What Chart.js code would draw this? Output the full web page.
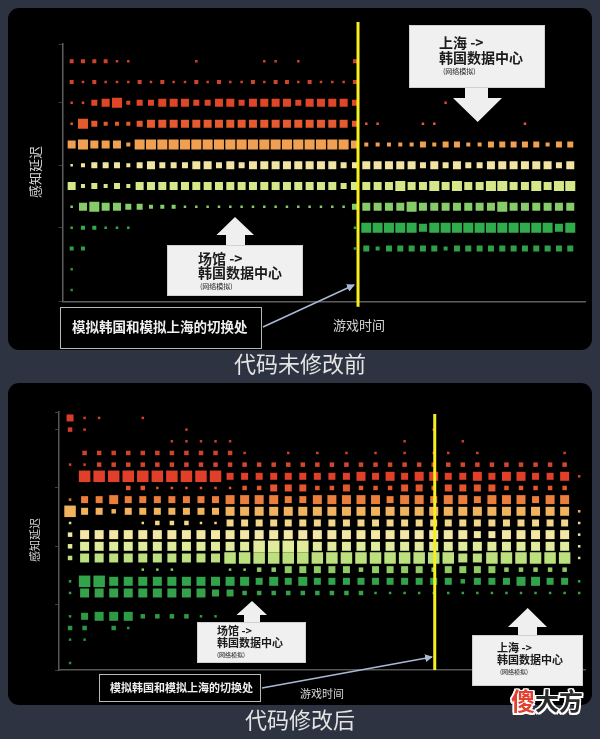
<!DOCTYPE html>
<html><head><meta charset="utf-8">
<script src="https://cdn.jsdelivr.net/npm/chart.js@4.4.1/dist/chart.umd.min.js"></script>
<style>
html,body{margin:0;padding:0;background:#2d3340;width:600px;height:739px;overflow:hidden;font-family:"Noto Sans CJK SC","Noto Sans",sans-serif;}
.panel{position:absolute;background:#000;border-radius:11px;}
canvas{position:absolute;left:0;}
.box{position:absolute;background:#f0f0f0;box-sizing:border-box;border:1px solid #d0d0d0;}
.sbox{position:absolute;background:#000;box-sizing:border-box;border:1.5px solid #b8b8b8;}
.t{position:absolute;white-space:nowrap;line-height:1;}
.dk{color:#1b1b1b;font-weight:bold;}
.wt{color:#efefef;font-weight:bold;}
.ax{color:#d6d6d6;}
.rot{transform:translate(-50%,-50%) rotate(-90deg);}
.ttl{color:#e4e4e4;font-size:22px;transform:translate(-50%,-50%);}
svg{position:absolute;left:0;top:0;}
</style></head><body>
<div class="panel" style="left:8px;top:8px;width:584px;height:342px"></div>
<div class="panel" style="left:8px;top:383px;width:584px;height:322px"></div>
<canvas id="topChart" width="600" height="370" style="top:0;width:600px;height:370px"></canvas>
<canvas id="bottomChart" width="600" height="369" style="top:370px;width:600px;height:369px"></canvas>

<svg width="600" height="739" style="z-index:2">
  <polygon fill="#efefef" points="465,87 488,87 488,98 502,98 477.7,122 453,98 465,98"/>
  <polygon fill="#efefef" points="226,246 245,246 245,235 254,235 235,217 216.5,235 226,235"/>
  <polygon fill="#efefef" points="244,623 260,623 260,615 267,615 252,601 236.5,615 244,615"/>
  <polygon fill="#efefef" points="518,636 537,636 537,627 547,627 527.7,608 508,627 518,627"/>
</svg>

<div class="box" style="left:409px;top:25px;width:136px;height:63px;z-index:3"></div>
<div class="t dk" style="left:439px;top:35px;font-size:14px;z-index:4">上海 -&gt;</div>
<div class="t dk" style="left:439px;top:50px;font-size:14px;z-index:4">韩国数据中心</div>
<div class="t dk" style="left:443px;top:68px;font-size:7px;font-weight:normal;z-index:4">(网络模拟)</div>

<div class="box" style="left:167px;top:245px;width:136px;height:51px;z-index:3"></div>
<div class="t dk" style="left:198px;top:251px;font-size:14px;z-index:4">场馆 -&gt;</div>
<div class="t dk" style="left:198px;top:265px;font-size:14px;z-index:4">韩国数据中心</div>
<div class="t dk" style="left:200px;top:283px;font-size:7px;font-weight:normal;z-index:4">(网络模拟)</div>

<div class="sbox" style="left:60px;top:307px;width:202px;height:42px;z-index:3"></div>
<div class="t wt" style="left:72px;top:320px;font-size:13.5px;z-index:4">模拟韩国和模拟上海的切换处</div>

<div class="t ax rot" style="left:34px;top:172px;font-size:13px;z-index:4">感知延迟</div>
<div class="t ax" style="left:359px;top:324px;font-size:13px;transform:translate(-50%,-50%);z-index:4">游戏时间</div>
<div class="t ttl" style="left:300px;top:362px">代码未修改前</div>

<div class="box" style="left:197px;top:622px;width:109px;height:41px;z-index:3"></div>
<div class="t dk" style="left:217px;top:625px;font-size:11px;z-index:4">场馆 -&gt;</div>
<div class="t dk" style="left:217px;top:637px;font-size:11px;z-index:4">韩国数据中心</div>
<div class="t dk" style="left:217px;top:652px;font-size:6px;font-weight:normal;z-index:4">(网络模拟)</div>

<div class="box" style="left:472px;top:635px;width:111px;height:51px;z-index:3"></div>
<div class="t dk" style="left:497px;top:642px;font-size:11px;z-index:4">上海 -&gt;</div>
<div class="t dk" style="left:497px;top:654px;font-size:11px;z-index:4">韩国数据中心</div>
<div class="t dk" style="left:500px;top:669px;font-size:6px;font-weight:normal;z-index:4">(网络模拟)</div>

<div class="sbox" style="left:99px;top:674px;width:162px;height:28px;z-index:3"></div>
<div class="t wt" style="left:110px;top:682px;font-size:11px;z-index:4">模拟韩国和模拟上海的切换处</div>

<div class="t ax rot" style="left:34px;top:540px;font-size:11px;z-index:4">感知延迟</div>
<div class="t ax" style="left:322px;top:693px;font-size:11px;transform:translate(-50%,-50%);z-index:4">游戏时间</div>
<div class="t ttl" style="left:300px;top:718px">代码修改后</div>

<svg width="600" height="739" style="z-index:5">
  <defs><marker id="ah" markerWidth="8" markerHeight="8" refX="7" refY="4" orient="auto" markerUnits="userSpaceOnUse">
    <path d="M0,0 L8,4 L0,8 z" fill="#aab8d8"/></marker></defs>
  <line x1="263" y1="327" x2="354" y2="285" stroke="#aab8d8" stroke-width="1.5" marker-end="url(#ah)"/>
  <line x1="262" y1="688" x2="432" y2="657" stroke="#aab8d8" stroke-width="1.5" marker-end="url(#ah)"/>
</svg>

<div class="t" style="left:511px;top:688px;font-size:24px;font-weight:bold;z-index:6;text-shadow:-1.5px -1.5px 0 #fff,1.5px -1.5px 0 #fff,-1.5px 1.5px 0 #fff,1.5px 1.5px 0 #fff,0 1.5px 0 #fff,0 -1.5px 0 #fff,1.5px 0 0 #fff,-1.5px 0 0 #fff"><span style="color:#e4402f">傻</span><span style="color:#2a2a2a">大方</span></div>

<script>
// ---------- DATA: top chart (before the code change) ----------
const topTimeSlots = [0,1,2,3,4,5,6,7,8,9,10,11,12,13,14,15,16,17,18,19,20,21,22,23,24,25,26,27,28,29,30,31,32,33,34,35,36,37,38,39,40,41,42,43,44];
const topLatencyLevels = [11,10,9,8,7,6,5,4,3,2,1,0];
const topSwitchSlot = 25.27;
// sample density level per latency row (top row first), per time slot
const topDensity = [
  [2,2,2,2,1,1,0,0,0,0,0,1,0,0,0,0,0,1,1,0,1,0,0,0,0,2, 0,0,0,0,0,0,0,0,0,0,0,0,0,0,0,0,0,0,0],
  [2,1,2,1,1,1,2,1,2,1,1,2,1,2,1,1,2,1,2,2,1,2,1,1,1,2, 0,0,0,0,0,0,0,0,0,0,0,0,0,0,0,0,0,0,0],
  [1,1,3,4,5,2,3,3,4,4,4,3,3,4,4,3,4,4,4,4,3,4,4,4,4,3, 0,0,0,0,0,0,0,1,0,0,0,0,0,0,0,0,0,0,0],
  [1,5,3,2,2,2,3,4,4,4,4,4,4,4,4,4,4,4,4,4,4,4,4,4,4,3, 1,1,0,0,0,1,1,0,0,0,0,0,0,0,1,0,0,0,0],
  [4,5,4,4,4,2,5,5,5,5,5,5,5,5,5,5,5,5,5,5,5,5,5,5,5,4, 2,2,2,2,2,3,2,3,3,2,2,3,3,3,3,3,2,3,3],
  [1,2,3,3,3,2,3,4,3,3,3,4,4,3,4,3,4,4,4,4,4,4,4,4,3,3, 4,4,4,4,4,3,4,3,4,3,3,4,4,4,4,4,4,3,4],
  [4,2,3,2,3,2,4,4,4,4,4,4,4,4,4,4,4,4,4,4,4,4,4,4,3,4, 4,4,4,5,4,4,5,4,5,4,4,5,5,4,4,5,4,5,5],
  [1,4,5,4,4,3,3,2,2,2,1,1,1,1,1,1,1,1,1,1,1,1,1,1,1,3, 4,4,4,4,5,4,4,4,4,4,4,4,5,4,4,4,4,4,4],
  [1,2,2,1,1,1,0,0,0,0,0,0,0,0,0,0,0,0,0,0,0,0,0,0,0,1, 5,5,5,5,5,4,5,5,5,5,5,5,5,5,5,5,5,4,5],
  [2,2,0,0,0,0,0,0,0,0,0,0,0,0,0,0,0,0,0,0,0,0,0,0,0,1, 3,2,3,3,3,3,3,2,3,3,3,3,3,3,3,3,3,3,3],
  [1,0,0,0,0,0,0,0,0,0,0,0,0,0,0,0,0,0,0,0,0,0,0,0,0,0, 0,0,0,0,0,0,0,0,0,0,0,0,0,0,0,0,0,0,0],
  [1,0,0,0,0,0,0,0,0,0,0,0,0,0,0,0,0,0,0,0,0,0,0,0,0,0, 0,0,0,0,0,0,0,0,0,0,0,0,0,0,0,0,0,0,0]
];

// ---------- DATA: bottom chart (after the code change) ----------
const bottomTimeSlots = [0,1,2,3,4,5,6,7,8,9,10,11,12,13,14,15,16,17,18,19,20,21,22,23,24,25,26,27,28,29,30,31,32,33,34,35];
const bottomLatencyLevels = [21,20,19,18,17,16,15,14,13,12,11,10,9,8,7,6,5,4,3,2,1,0];
const bottomSwitchSlot = 25.07;
const bottomDensity = [
  [3,1,1,0,0,1,0,0,0,0, 0,0,0,0,0,0,0,0,0,0, 0,0,0,0,0,0,0,0,0,0, 0,0,0,0,0,0],
  [2,1,0,0,0,0,0,0,1,0, 0,0,0,0,0,0,0,0,0,0, 0,0,0,0,0,1,0,0,0,0, 0,0,0,0,0,0],
  [0,0,0,0,0,0,0,1,1,1, 1,1,0,0,0,0,0,0,0,0, 0,0,0,1,0,0,0,1,0,0, 0,0,0,0,0,0],
  [0,2,2,2,2,2,2,2,2,2, 2,2,1,0,0,1,0,1,0,1, 0,1,0,1,0,1,1,0,1,0, 0,0,0,0,1,0],
  [1,1,2,2,2,2,2,2,2,2, 2,2,2,2,2,2,2,2,2,2, 2,2,2,2,2,2,2,2,2,2, 2,2,2,2,2,0],
  [0,5,5,5,5,5,5,5,5,5, 5,3,3,3,3,3,3,3,3,3, 4,3,4,3,4,4,3,3,4,3, 4,4,3,3,4,1],
  [0,0,0,0,2,2,1,1,1,1, 1,1,2,2,3,3,3,2,2,3, 2,2,2,3,3,2,3,3,3,3, 2,2,2,2,2,0],
  [1,3,3,4,3,3,3,3,3,3, 3,4,4,4,4,3,3,4,4,4, 4,4,3,4,4,3,4,4,3,4, 4,4,3,4,4,0],
  [5,3,3,2,3,3,3,3,3,3, 3,4,4,4,4,4,4,4,4,4, 4,4,4,4,4,4,4,4,4,4, 4,4,4,4,4,1],
  [1,0,0,0,0,1,2,2,2,1, 1,3,3,3,3,3,3,3,3,3, 3,3,3,3,3,3,3,3,3,3, 3,3,3,3,3,1],
  [2,4,4,4,4,4,4,4,4,4, 4,4,4,4,4,4,4,4,4,4, 4,4,4,4,4,4,4,4,3,3, 4,4,4,4,4,1],
  [2,4,4,4,4,4,4,4,4,4, 4,4,4,5,5,5,5,4,4,4, 4,4,4,4,4,4,4,4,4,4, 4,4,4,4,4,1],
  [2,4,4,4,4,4,4,4,4,4, 4,5,5,5,5,5,5,5,5,5, 5,5,5,5,5,5,5,4,4,5, 5,5,5,5,5,1],
  [0,0,0,0,0,1,1,1,0,0, 0,1,1,2,2,3,3,3,3,3, 2,3,3,3,3,2,3,3,3,3, 2,2,2,2,2,0],
  [1,5,5,4,4,4,4,4,4,4, 4,4,4,3,4,3,4,3,3,3, 3,3,3,3,3,3,3,2,3,3, 3,4,4,3,3,1],
  [1,4,4,4,4,4,4,4,4,4, 3,3,2,2,2,2,2,2,2,2, 2,1,1,1,1,1,1,1,1,1, 1,1,1,1,1,1],
  [0,0,0,0,0,0,0,0,0,0, 0,0,0,0,0,0,0,0,0,0, 0,0,0,0,0,0,0,0,0,0, 0,0,0,0,0,0],
  [1,3,4,4,4,2,2,2,2,1, 1,0,0,0,0,0,0,0,0,0, 0,0,0,0,0,0,0,0,0,0, 0,0,0,0,0,0],
  [2,2,0,2,1,0,0,0,0,0, 0,0,0,0,0,0,0,0,0,0, 0,0,0,0,0,0,0,0,0,0, 0,0,0,0,0,0],
  [1,1,0,0,0,0,0,0,0,0, 0,0,0,0,0,0,0,0,0,0, 0,0,0,0,0,0,0,0,0,0, 0,0,0,0,0,0],
  [0,0,0,0,0,0,0,0,0,0, 0,0,0,0,0,0,0,0,0,0, 0,0,0,0,0,0,0,0,0,0, 0,0,0,0,0,0],
  [1,0,0,0,0,0,0,0,0,0, 0,0,0,0,0,0,0,0,0,0, 0,0,0,0,0,0,0,0,0,0, 0,0,0,0,0,0]
];

// ---------- STYLE ----------
const topRowColors = ['#d0402c','#d3432c','#df4527','#e55a2e','#f0a050','#f2e4a2','#d4e88a','#86cc68','#30ac4c','#2fa049','#2b9444','#2a8c40'];
const bottomRowColors = ['#d83c2a','#d33c2a','#cc3d2b','#d0422c','#d4452c','#e0402a','#e4562e','#ea7e3a','#f0b460','#f2d68c','#f3e7a6','#e0eb9c','#bde07f','#8ecb66','#31a44b','#36a04a','#2e9a45','#2f9a45','#2c9442','#2a8f40','#2a8a3e','#2a8a3e'];
const topSides = [0,2.5,4,6,8,10];
const bottomSides = [0,2.5,4.5,7,9,11.5];

const switchLinePlugin = {
  id:'switchLine',
  afterDatasetsDraw(chart, args, o){
    const {ctx, chartArea} = chart;
    const x = chart.scales.x.getPixelForValue(o.value);
    ctx.save();
    ctx.strokeStyle = '#f7f01e';
    ctx.lineWidth = 3;
    ctx.beginPath();
    ctx.moveTo(x, chartArea.top - o.extendTop);
    ctx.lineTo(x, chartArea.bottom + o.extendBottom);
    ctx.stroke();
    ctx.restore();
  }
};

function makeChart(id, slots, levels, density, colors, sides, sw, pad, range, axisColor, ext, yStep){
  const datasets = levels.map((lv,i)=>({
    label: 'latency ' + lv,
    data: density[i].map((c,k)=> c>0 ? {x:slots[k], y:lv, c:c} : null).filter(p=>p),
    backgroundColor: colors[i],
    borderWidth: 0,
    pointStyle: 'rect',
    pointRadius: ctx => ctx.raw ? sides[ctx.raw.c]/Math.SQRT2 : 0,
    pointHoverRadius: ctx => ctx.raw ? sides[ctx.raw.c]/Math.SQRT2 : 0
  }));
  return new Chart(document.getElementById(id), {
    type:'scatter',
    data:{datasets},
    options:{
      responsive:false, animation:false, events:[],
      layout:{padding:pad},
      plugins:{legend:{display:false}, tooltip:{enabled:false},
        switchLine:{value:sw, extendTop:ext[0], extendBottom:ext[1]}},
      scales:{
        x:{type:'linear', min:range[0], max:range[1], ticks:{display:false}, grid:{display:false},
           border:{display:true,color:axisColor,width:1.5}, afterFit(s){ s.height = 0; }},
        y:{type:'linear', min:range[2], max:range[3], ticks:{display:false, stepSize:yStep},
           grid:{display:true, drawOnChartArea:false, drawTicks:true, tickLength:4, color:'#3c3c3c'},
           border:{display:true,color:axisColor,width:1.5}, afterFit(s){ s.width = 0; }}
      }
    },
    plugins:[switchLinePlugin]
  });
}

makeChart('topChart', topTimeSlots, topLatencyLevels, topDensity, topRowColors, topSides, topSwitchSlot,
  {left:62.7, right:15, top:44, bottom:68.3}, [-0.79, 45.3, -0.56, 11.83], '#5e5e5e', [22, 5], 3);
makeChart('bottomChart', bottomTimeSlots, bottomLatencyLevels, bottomDensity, bottomRowColors, bottomSides, bottomSwitchSlot,
  {left:59, right:15, top:42, bottom:69}, [-0.76, 35.4, -0.6, 21.51], '#555555', [-2, 0], 5);
</script>
</body></html>
